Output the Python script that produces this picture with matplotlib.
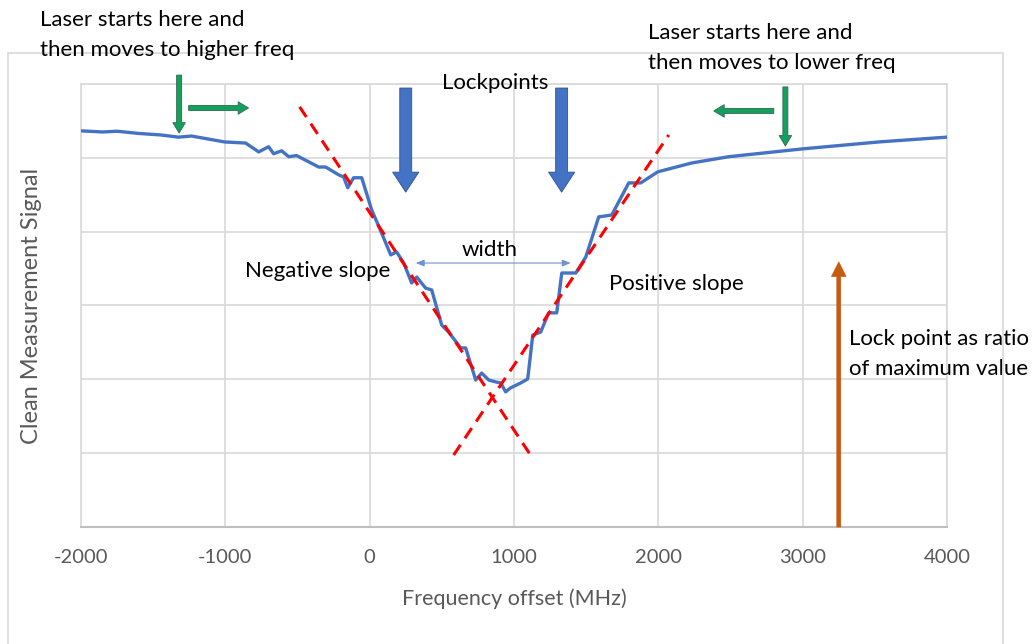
import matplotlib.pyplot as plt
from matplotlib.patches import Rectangle

# ==========================================
# data
# ==========================================
freq = [-2000, -1850, -1750, -1600, -1450, -1324, -1234, -1005, -859, -769, -700,
        -665, -610, -561, -506, -353, -305, -215, -180, -152, -111, -55, 14, 83,
        146, 187, 236, 291, 326, 388, 430, 499, 547, 631, 665, 735, 776, 825, 873,
        908, 942, 977, 1046, 1095, 1130, 1185, 1240, 1296, 1331, 1428, 1497, 1587,
        1677, 1795, 1878, 1933, 1996, 2231, 2488, 2994, 3527, 4000]
signal = [1.073, 1.070, 1.072, 1.066, 1.062, 1.056, 1.059, 1.043, 1.040, 1.016, 1.030,
          1.011, 1.019, 1.003, 1.006, 0.975, 0.975, 0.954, 0.948, 0.919, 0.946, 0.946,
          0.859, 0.796, 0.737, 0.745, 0.715, 0.661, 0.677, 0.647, 0.642, 0.547, 0.528,
          0.485, 0.485, 0.398, 0.417, 0.398, 0.393, 0.390, 0.366, 0.377, 0.390, 0.401,
          0.520, 0.528, 0.580, 0.580, 0.688, 0.688, 0.731, 0.840, 0.845, 0.932, 0.932,
          0.946, 0.962, 0.986, 1.003, 1.024, 1.043, 1.056]

# slope fit lines (start, end)
neg_fit_x = [-485, 1123]
neg_fit_y = [1.138, 0.190]
pos_fit_x = [582, 2072]
pos_fit_y = [0.195, 1.062]

lockpoints = [250, 1330]
xticks = [-2000, -1000, 0, 1000, 2000, 3000, 4000]
yticks = [0, 0.2, 0.4, 0.6, 0.8, 1.0, 1.2]

plt.rcParams['font.family'] = ['Lato', 'DejaVu Sans']
plt.rcParams['axes.unicode_minus'] = False

fig = plt.figure(figsize=(10.34, 6.44), dpi=100)
ax = fig.add_axes([0.0783, 0.1817, 0.8376, 0.6879])

# outer chart frame
fig.patches.append(Rectangle((8 / 1034, -0.1), 995 / 1034, 1.1 - 53 / 644,
                             transform=fig.transFigure, fill=False,
                             edgecolor='#D9D9D9', lw=1.2))

ax.plot(freq, signal, color='#4472C4', lw=2.4, zorder=3)
ax.plot(neg_fit_x, neg_fit_y, color='#FF0000', lw=2.2, dashes=(4, 2.6), zorder=4)
ax.plot(pos_fit_x, pos_fit_y, color='#FF0000', lw=2.2, dashes=(4, 2.6), zorder=4)

ax.set_xlim(-2000, 4000)
ax.set_ylim(0, 1.2)
ax.set_xticks(xticks)
ax.set_yticks(yticks)
ax.set_yticklabels([])
ax.grid(True, color='#D9D9D9', lw=1.2)
ax.tick_params(length=0, labelsize=14.5, labelcolor='#595959', pad=16)
for side in ['left', 'right', 'top']:
    ax.spines[side].set_color('#D9D9D9')
    ax.spines[side].set_linewidth(1.2)
ax.spines['bottom'].set_color('#BFBFBF')
ax.spines['bottom'].set_linewidth(1.5)

ax.set_xlabel('Frequency offset (MHz)', fontsize=15.5, color='#595959', labelpad=16)
ax.set_ylabel('Clean Measurement Signal', fontsize=17, color='#595959', labelpad=12)

# lockpoint arrows
blue_style = 'simple,head_width=0.94,head_length=0.72,tail_width=0.43'
for lp in lockpoints:
    ax.annotate('', xy=(lp, 0.907), xytext=(lp, 1.189), annotation_clip=False,
                arrowprops=dict(arrowstyle=blue_style, mutation_scale=20,
                                fc='#4472C4', ec='#2F528F', lw=0.6, shrinkA=0, shrinkB=0),
                zorder=5)
ax.text(873, 1.203, 'Lockpoints', ha='center', va='center', fontsize=16)

# green arrows
green_style = 'simple,head_width=0.9,head_length=0.75,tail_width=0.36'
green_arrows = [((-1320, 1.224), (-1320, 1.067)), ((-1254, 1.135), (-839, 1.135)),
                ((2880, 1.192), (2880, 1.032)), ((2800, 1.127), (2384, 1.127))]
for start, end in green_arrows:
    ax.annotate('', xy=end, xytext=start, annotation_clip=False,
                arrowprops=dict(arrowstyle=green_style, mutation_scale=10,
                                fc='#14A05C', ec='#2D6A4F', lw=0.6, shrinkA=0, shrinkB=0),
                zorder=5)

# width arrow
ax.annotate('', xy=(1393, 0.715), xytext=(319, 0.715),
            arrowprops=dict(arrowstyle='<|-|>,head_length=0.5,head_width=0.2',
                            mutation_scale=10, color='#6F93D2', lw=0.8,
                            shrinkA=0, shrinkB=0), zorder=5)
ax.text(832, 0.75, 'width', ha='center', va='center', fontsize=16)

# ratio arrow
ax.annotate('', xy=(3250, 0.718), xytext=(3250, 0.0), annotation_clip=False,
            arrowprops=dict(arrowstyle='simple,head_width=0.75,head_length=0.75,tail_width=0.2',
                            mutation_scale=14, fc='#C55A11', ec='#C55A11', lw=0.5,
                            shrinkA=0, shrinkB=0), zorder=5)

ax.text(-866, 0.693, 'Negative slope', ha='left', va='center', fontsize=16)
ax.text(1656, 0.658, 'Positive slope', ha='left', va='center', fontsize=16)
ax.text(3319, 0.469, 'Lock point as ratio\nof maximum value', ha='left', va='center',
        fontsize=16, linespacing=1.65)

fig.text(40 / 1034, 1 - 35 / 644, 'Laser starts here and\nthen moves to higher freq',
         ha='left', va='center', fontsize=16, linespacing=1.65)
fig.text(648 / 1034, 1 - 48 / 644, 'Laser starts here and\nthen moves to lower freq',
         ha='left', va='center', fontsize=16, linespacing=1.65)

fig.savefig('out.png', dpi=100)
